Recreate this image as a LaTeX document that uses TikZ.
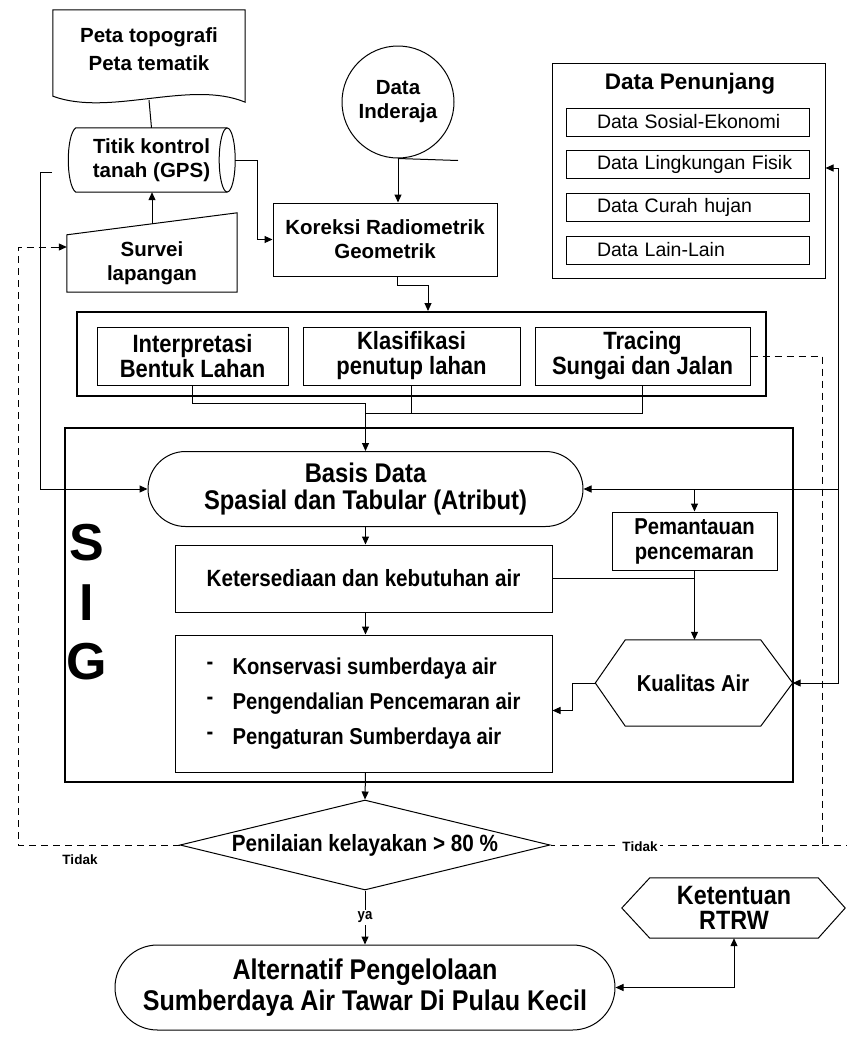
\documentclass[tikz,border=0pt]{standalone}
\usepackage{fontspec}
\setmainfont{Liberation Sans}
\newfontfamily\nar[FakeStretch=0.88]{Liberation Sans}
\usetikzlibrary{arrows.meta,shapes.geometric,calc}
\begin{document}
\begin{tikzpicture}[x=1pt,y=-1pt,
  ln/.style={line width=1pt},
  box/.style={draw, line width=1pt, inner sep=0pt, align=center},
  heavybox/.style={draw, line width=2pt, inner sep=0pt},
  arr/.style={line width=1pt, -{Triangle[length=8pt,width=7pt]}},
  dsh/.style={line width=1pt, dash pattern=on 7pt off 5pt},
  topf/.style={font=\bfseries\fontsize{20.5}{24}\selectfont, align=center},
  itemf/.style={font=\fontsize{19.5}{22}\selectfont, text width=211, align=left, inner xsep=0, minimum width=243, minimum height=28, draw, line width=1pt},
  grpf/.style={font=\nar\bfseries\fontsize{25}{25}\selectfont, align=center},
  midf/.style={font=\nar\bfseries\fontsize{23.5}{26}\selectfont, align=center},
  smallf/.style={font=\bfseries\fontsize{13.5}{15}\selectfont},
]
\useasboundingbox (0,0) rectangle (847,1037);
\fill[white] (0,0) rectangle (847,1037);

% ---- Document shape
\node[topf, minimum width=192, minimum height=78, inner sep=0] (doc) at (149,49) {Peta topografi\\[4pt]Peta tematik};
\draw[ln] (doc.north west) -- (doc.north east) -- ($(doc.south east)+(0,14)$)
  .. controls ($(doc.south east)+(-55,-9)$) and ($(doc.south west)+(57,29)$) .. ($(doc.south west)+(0,8)$) -- cycle;

% ---- Cylinder
\node[topf, minimum width=167, minimum height=64, inner sep=0] (cy) at (151.5,160) {Titik kontrol\\tanah (GPS)};
\draw[ln] ($(cy.north east)+(-8,0)$) -- ($(cy.north west)+(8,0)$)
  .. controls ($(cy.north west)+(-2,7)$) and ($(cy.south west)+(-2,-7)$) .. ($(cy.south west)+(8,0)$)
  -- ($(cy.south east)+(-8,0)$);
\draw[ln] ($(cy.east)+(-8,0)$) ellipse [x radius=8, y radius=32];

% ---- Survei lapangan (manual input)
\node[topf, minimum width=170, minimum height=57, inner sep=0] (sv) at (152,263.5) {Survei\\lapangan};
\draw[ln] (sv.south west) -- (sv.south east) -- ($(sv.north east)+(0,-22)$) -- (sv.north west) -- cycle;

% ---- Data Inderaja
\node[draw, ln, circle, minimum size=112, inner sep=0, topf] (di) at (398,102) {Data\\Inderaja};
\draw[ln] (di.south) -- ++(60,2);

% ---- Koreksi
\node[box, topf, minimum width=224, minimum height=73] (kr) at (385,239.5) {Koreksi Radiometrik\\Geometrik};

% ---- Data Penunjang
\node[box, minimum width=273, minimum height=215] (dp) at (688.5,170.5) {};
\node[font=\bfseries\fontsize{22.5}{24}\selectfont] (dpt) at (690,84) {Data Penunjang};
\node[itemf] (d1) at (687.5,122) {\hspace*{15pt}Data Sosial-Ekonomi};
\node[itemf] (d2) at (687.5,164) {\hspace*{15pt}Data Lingkungan Fisik};
\node[itemf] (d3) at (687.5,207) {\hspace*{15pt}Data Curah hujan};
\node[itemf] (d4) at (687.5,250) {\hspace*{15pt}Data Lain-Lain};

% ---- Group of three
\node[heavybox, minimum width=689, minimum height=84] (gp) at (421.5,354) {};
\node[box, grpf, minimum width=191, minimum height=58] (ib) at (192.5,356) {Interpretasi\\Bentuk Lahan};
\node[box, grpf, minimum width=217, minimum height=58] (kb) at (411.5,356) {Klasifikasi\\penutup lahan};
\node[box, grpf, minimum width=215, minimum height=58] (tb) at (642.5,356) {Tracing\\Sungai dan Jalan};

% ---- SIG
\node[heavybox, minimum width=728, minimum height=354] (sig) at (429,605) {};
\node[font=\bfseries\fontsize{52}{52}\selectfont] (s1) at (87,543) {S};
\node[font=\bfseries\fontsize{52}{52}\selectfont] (s2) at (87,603) {I};
\node[font=\bfseries\fontsize{52}{52}\selectfont] (s3) at (87,662) {G};

\node[box, font=\nar\bfseries\fontsize{27}{27}\selectfont, minimum width=435, minimum height=75, rounded corners=37.5] (bd) at (365.5,489) {Basis Data\\Spasial dan Tabular (Atribut)};
\node[box, midf, font=\nar\bfseries\fontsize{23}{25}\selectfont, minimum width=165, minimum height=58] (pm) at (694.5,541) {Pemantauan\\pencemaran};
\node[box, midf, minimum width=377, minimum height=67] (ks) at (363.5,578.5) {Ketersediaan dan kebutuhan air};
\node[box, font=\nar\bfseries\fontsize{23}{35}\selectfont, align=left, minimum width=377, minimum height=137] (lb) at (363.5,703.5)
  {\makebox[26pt][l]{\raisebox{5pt}{-}}Konservasi sumberdaya air\\
   \makebox[26pt][l]{\raisebox{5pt}{-}}Pengendalian Pencemaran air\\
   \makebox[26pt][l]{\raisebox{5pt}{-}}Pengaturan Sumberdaya air};

% Kualitas Air hexagon
\node[midf, font=\nar\bfseries\fontsize{23}{25}\selectfont, minimum width=135, minimum height=86, inner sep=0] (kq) at (693,683) {Kualitas Air};
\draw[ln] (kq.north west) -- (kq.north east) -- ($(kq.east)+(32,0)$) coordinate (kqE)
  -- (kq.south east) -- (kq.south west) -- ($(kq.west)+(-30,0)$) coordinate (kqW) -- cycle;

% ---- Decision
\node[draw, ln, diamond, aspect=4.1, minimum width=370, minimum height=90, inner sep=0, midf] (dm) at (365,845) {Penilaian kelayakan > 80 \%};

% ---- Final
\node[box, font=\nar\bfseries\fontsize{28.5}{31}\selectfont, minimum width=500, minimum height=85, rounded corners=42.5] (al) at (365,987.5) {Alternatif Pengelolaan\\Sumberdaya Air Tawar Di Pulau Kecil};
\node[font=\nar\bfseries\fontsize{26.5}{25}\selectfont, align=center, minimum width=168, minimum height=60, inner sep=0] (kt) at (734,908) {Ketentuan\\RTRW};
\draw[ln] (kt.north west) -- (kt.north east) -- ($(kt.east)+(27,0)$)
  -- (kt.south east) -- (kt.south west) -- ($(kt.west)+(-28,0)$) -- cycle;

% ================= connectors
\draw[ln] ($(doc.south)+(0,12)$) -- (cy.north);
\draw[arr] ($(sv.north)+(0,-11)$) -- ($(cy.south)+(0.5,0)$);
\draw[arr] (cy.east) -- ++(22,0) |- (kr.west);
\draw[arr] (di.south) -- (di.south |- kr.north);
\coordinate (kg) at (428,285);
\draw[arr] ($(kr.south)+(12,0)$) |- (kg) -- (kg |- gp.north);

\coordinate (j1) at (365.5,403);
\coordinate (j2) at (365.5,413);
\draw[ln] (ib.south) |- (j1);
\draw[ln] (kb.south) -- (kb.south |- j2);
\draw[ln] (tb.south) |- (j2);
\draw[arr] (j1) -- (bd.north);

\draw[arr] (bd.south) -- (bd.south |- ks.north);
\draw[arr] (bd.south |- ks.south) -- (bd.south |- lb.north);
\draw[arr] (bd.south |- lb.south) -- (dm.north);
\draw[arr] (dm.south) -- node[fill=white, inner sep=2pt, font=\nar\bfseries\fontsize{15}{15}\selectfont] (ya) {ya} (al.north);

% left solid feedback
\coordinate (fs) at (52,172);
\coordinate (fx) at (40,172);
\draw[arr] (fs) -- (fx) |- (bd.west);

% right bus
\coordinate (bt) at (838,168);
\coordinate (bb) at (838,683);
\draw[arr] (bb) -- (bt) -- (bt -| dp.east);
\draw[arr] (bt) -- (bb) -- (kqE);
\draw[arr] (bt |- bd.east) -- (bd.east);
\draw[arr] (pm.north |- bd.east) -- (pm.north);

\draw[arr] (pm.south) -- (pm.south |- kq.north);
\draw[ln] (ks.east) -- (ks.east -| pm.south);
\draw[arr] (kqW) -- ++(-23,0) |- ($(lb.east)+(0,7)$);

\draw[line width=1pt, {Triangle[length=8pt,width=7pt]}-{Triangle[length=8pt,width=7pt]}] (al.east) -| (kt.south);

% dashed feedback loops
\coordinate (lc) at (18,845);
\coordinate (lt) at (18,247);
\draw[dsh] (dm.west) -- (lc) -- (lt) -- ($(lt -| sv.west)+(-8,0)$);
\draw[arr] ($(lt -| sv.west)+(-9,0)$) -- (lt -| sv.west);
\coordinate (rc) at (822,845);
\draw[dsh] (tb.east) -| (rc) -- (dm.east);
\draw[dsh] (rc) -- (847,845);

\node[smallf] (t1) at (80,860) {Tidak};
\node[smallf, fill=white, inner sep=2pt] (t2) at (640,847) {Tidak};
\end{tikzpicture}
\end{document}
